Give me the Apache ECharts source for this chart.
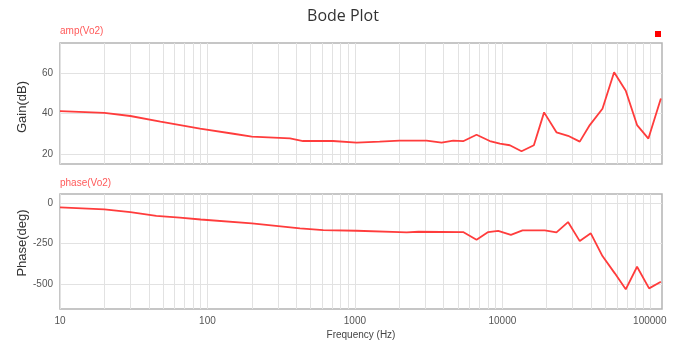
<!DOCTYPE html>
<html>
<head>
<meta charset="utf-8">
<script src="https://cdn.jsdelivr.net/npm/echarts@6/dist/echarts.min.js"></script>
<style>html,body{margin:0;padding:0;background:#fff;}#c{width:686px;height:347px;}</style>
</head>
<body>
<div id="c"></div>
<script>
const gainFreq = [10, 20, 30, 48, 89, 150, 200, 363, 445, 709, 1027, 1472, 2010, 3063, 3873, 4645, 5420, 6683, 8222, 9614, 11240, 13490, 16360, 19190, 23280, 27900, 33500, 39170, 47750, 57280, 68700, 81960, 97880, 118900];
const gainDb = [41.2, 40.4, 38.8, 36, 32.5, 30.0, 28.6, 27.7, 26.4, 26.4, 25.6, 26.1, 26.6, 26.6, 25.6, 26.6, 26.3, 29.5, 26.4, 25.1, 24.3, 21.3, 24.3, 40.6, 30.7, 29.0, 26.1, 34.3, 42.4, 60.5, 51.3, 34.3, 27.6, 47.5];
const phaseFreq = [10, 20, 30, 45, 65, 90, 200, 424, 610, 1027, 2010, 2244, 2700, 5420, 6683, 8017, 9370, 11430, 13710, 19410, 23280, 27900, 33500, 39800, 47750, 57940, 68700, 81960, 98900, 118900];
const phaseDeg = [-25, -37, -54, -77, -89, -100, -124, -155, -166, -170, -178, -180, -176, -178, -226, -178, -170, -195, -168, -168, -180, -116, -234, -186, -327, -434, -533, -393, -527, -486];
const freqGrid = [10,20,30,40,50,60,70,80,90,100,200,300,400,500,600,700,800,900,1000,2000,3000,4000,5000,6000,7000,8000,9000,10000,20000,30000,40000,50000,60000,70000,80000,90000,100000];
const freqLabels = [10, 100, 1000, 10000, 100000];
const gainTicks = [20, 40, 60];
const phaseTicks = [-500, -250, 0];

const chart = echarts.init(document.getElementById('c'), null, {renderer: 'canvas'});
const labelFont = {fontFamily: 'Liberation Sans', fontSize: 10, color: '#555'};
const gridLine = {show: true, lineStyle: {color: '#e2e2e2', width: 1}};
function xAx(idx, showLabels) {
  return {
    type: 'log', gridIndex: idx, min: 10, max: 121000, logBase: 10,
    axisLine: {show: false}, axisTick: {show: false, customValues: freqGrid},
    axisLabel: Object.assign({show: showLabels, margin: 7, customValues: freqLabels,
      formatter: v => String(Math.round(v))}, labelFont),
    splitLine: gridLine,
    name: showLabels ? 'Frequency (Hz)' : '', nameLocation: 'middle', nameGap: 21,
    nameTextStyle: {fontFamily: 'Liberation Sans', fontSize: 10, color: '#444'}
  };
}
function yAx(idx, min, max, ticks) {
  return {
    type: 'value', gridIndex: idx, min: min, max: max,
    axisLine: {show: false}, axisTick: {show: false, customValues: ticks},
    axisLabel: Object.assign({margin: 7, customValues: ticks, formatter: v => String(v)}, labelFont),
    splitLine: gridLine
  };
}
chart.setOption({
  animation: false,
  backgroundColor: '#fff',
  grid: [
    {left: 60, top: 43, width: 602, height: 121, show: true, borderColor: '#b4b4b4', borderWidth: 1.5},
    {left: 60, top: 194, width: 602, height: 115, show: true, borderColor: '#b4b4b4', borderWidth: 1.5}
  ],
  xAxis: [xAx(0, false), xAx(1, true)],
  yAxis: [yAx(0, 15, 75, gainTicks), yAx(1, -655, 58, phaseTicks)],
  series: [
    {type: 'line', xAxisIndex: 0, yAxisIndex: 0, symbol: 'none', data: gainFreq.map((f, i) => [f, gainDb[i]]),
     lineStyle: {color: '#ff3c3c', width: 1.8}},
    {type: 'line', xAxisIndex: 1, yAxisIndex: 1, symbol: 'none', data: phaseFreq.map((f, i) => [f, phaseDeg[i]]),
     lineStyle: {color: '#ff3c3c', width: 1.8}}
  ],
  graphic: [
    {type: 'text', left: 'center', top: 8, style: {text: 'Bode Plot', font: '16px "Open Sans"', fill: '#333'}},
    {type: 'text', x: 60, y: 26, style: {text: 'amp(Vo2)', font: '10px "Liberation Sans"', fill: '#ff5a5a'}},
    {type: 'text', x: 60, y: 178, style: {text: 'phase(Vo2)', font: '10px "Liberation Sans"', fill: '#ff5a5a'}},
    {type: 'rect', shape: {x: 655, y: 31, width: 6, height: 6}, style: {fill: '#ff0000'}},
    {type: 'text', x: 22.5, y: 107, rotation: Math.PI / 2,
     style: {text: 'Gain(dB)', font: '13px "Liberation Sans"', fill: '#333', textAlign: 'center', textVerticalAlign: 'middle'}},
    {type: 'text', x: 22, y: 243, rotation: Math.PI / 2,
     style: {text: 'Phase(deg)', font: '13px "Liberation Sans"', fill: '#333', textAlign: 'center', textVerticalAlign: 'middle'}}
  ]
});
</script>
</body>
</html>
